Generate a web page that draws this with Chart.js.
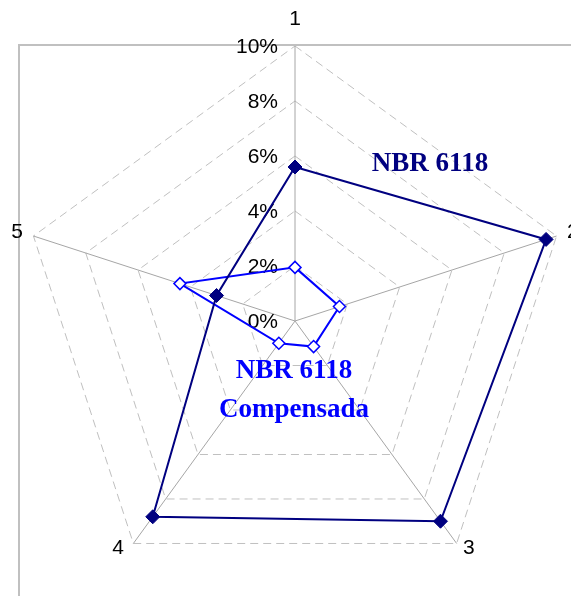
<!DOCTYPE html>
<html>
<head>
<meta charset="utf-8">
<script src="https://cdn.jsdelivr.net/npm/chart.js@4/dist/chart.umd.min.js"></script>
<style>
  html, body { margin: 0; padding: 0; background: #ffffff; }
  #wrap { width: 571px; height: 596px; }
</style>
</head>
<body>
<div id="wrap"><canvas id="c" width="571" height="596"></canvas></div>
<script>
// ---- Data ----
const categories = ['1', '2', '3', '4', '5'];
const nbr6118 = [5.6, 9.6, 9.0, 8.8, 3.0];
const nbr6118Compensada = [1.95, 1.7, 1.15, 1.0, 4.4];
const tickValues = [0, 2, 4, 6, 8, 10];
const tickLabels = ['0%', '2%', '4%', '6%', '8%', '10%'];
const seriesNames = ['NBR 6118', 'NBR 6118 Compensada'];

const NAVY = '#000080';
const BLUE = '#0000ff';

const decor = {
  id: 'decor',
  beforeDraw(chart) {
    const ctx = chart.ctx;
    ctx.save();
    ctx.fillStyle = '#ffffff';
    ctx.fillRect(0, 0, chart.width, chart.height);
    ctx.strokeStyle = '#c0c0c0';
    ctx.lineWidth = 2;
    ctx.beginPath();
    ctx.moveTo(19, chart.height + 2);
    ctx.lineTo(19, 45);
    ctx.lineTo(chart.width + 2, 45);
    ctx.stroke();
    ctx.restore();
  },
  beforeDatasetsDraw(chart) {
    const ctx = chart.ctx;
    const s = chart.scales.r;
    ctx.save();
    ctx.font = '21px "Liberation Sans", Arial, sans-serif';
    ctx.fillStyle = '#000000';
    ctx.textAlign = 'right';
    ctx.textBaseline = 'middle';
    tickValues.forEach((v, i) => {
      const d = s.getDistanceFromCenterForValue(v);
      ctx.fillText(tickLabels[i], s.xCenter - 17, s.yCenter - d + 1);
    });
    // point labels
    categories.forEach((lab, i) => {
      const extra = i === 0 ? 27 : 11;
      const p = s.getPointPosition(i, s.drawingArea + extra);
      let align = 'center';
      if (p.x > s.xCenter + 5) align = 'left';
      else if (p.x < s.xCenter - 5) align = 'right';
      ctx.textAlign = align;
      const dx = (i === 3) ? -3 : 0;
      ctx.fillText(lab, p.x + dx, p.y - (i === 2 || i === 3 ? 4 : 0));
    });
    ctx.restore();
  },
  afterDraw(chart) {
    const ctx = chart.ctx;
    ctx.save();
    ctx.font = 'bold 27px "Liberation Serif", "Times New Roman", serif';
    ctx.textAlign = 'center';
    ctx.textBaseline = 'middle';
    ctx.fillStyle = NAVY;
    ctx.fillText('NBR 6118', 430, 164);
    ctx.fillStyle = BLUE;
    ctx.fillText('NBR 6118', 294, 371);
    ctx.fillText('Compensada', 294, 410);
    ctx.restore();
  }
};

new Chart(document.getElementById('c'), {
  type: 'radar',
  data: {
    labels: categories,
    datasets: [
      {
        label: seriesNames[0],
        data: nbr6118,
        borderColor: NAVY,
        backgroundColor: NAVY,
        borderWidth: 2,
        fill: false,
        tension: 0,
        pointStyle: 'rectRot',
        pointRadius: 7,
        pointBorderWidth: 1,
        pointBackgroundColor: NAVY,
        pointBorderColor: NAVY
      },
      {
        label: seriesNames[1],
        data: nbr6118Compensada,
        borderColor: BLUE,
        backgroundColor: BLUE,
        borderWidth: 2,
        fill: false,
        tension: 0,
        pointStyle: 'rectRot',
        pointRadius: 6,
        pointBorderWidth: 1.5,
        pointBackgroundColor: '#ffffff',
        pointBorderColor: BLUE
      }
    ]
  },
  options: {
    responsive: false,
    animation: false,
    layout: { padding: { left: 20, right: 1, top: 46, bottom: 0 } },
    plugins: {
      legend: { display: false },
      tooltip: { enabled: false }
    },
    scales: {
      r: {
        min: 0,
        max: 10,
        ticks: { stepSize: 2, display: false },
        pointLabels: { display: false },
        grid: { color: '#c0c0c0', lineWidth: 1 },
        border: { dash: [8, 5] },
        angleLines: { color: '#a6a6a6', lineWidth: 1 }
      }
    }
  },
  plugins: [decor]
});
</script>
</body>
</html>
